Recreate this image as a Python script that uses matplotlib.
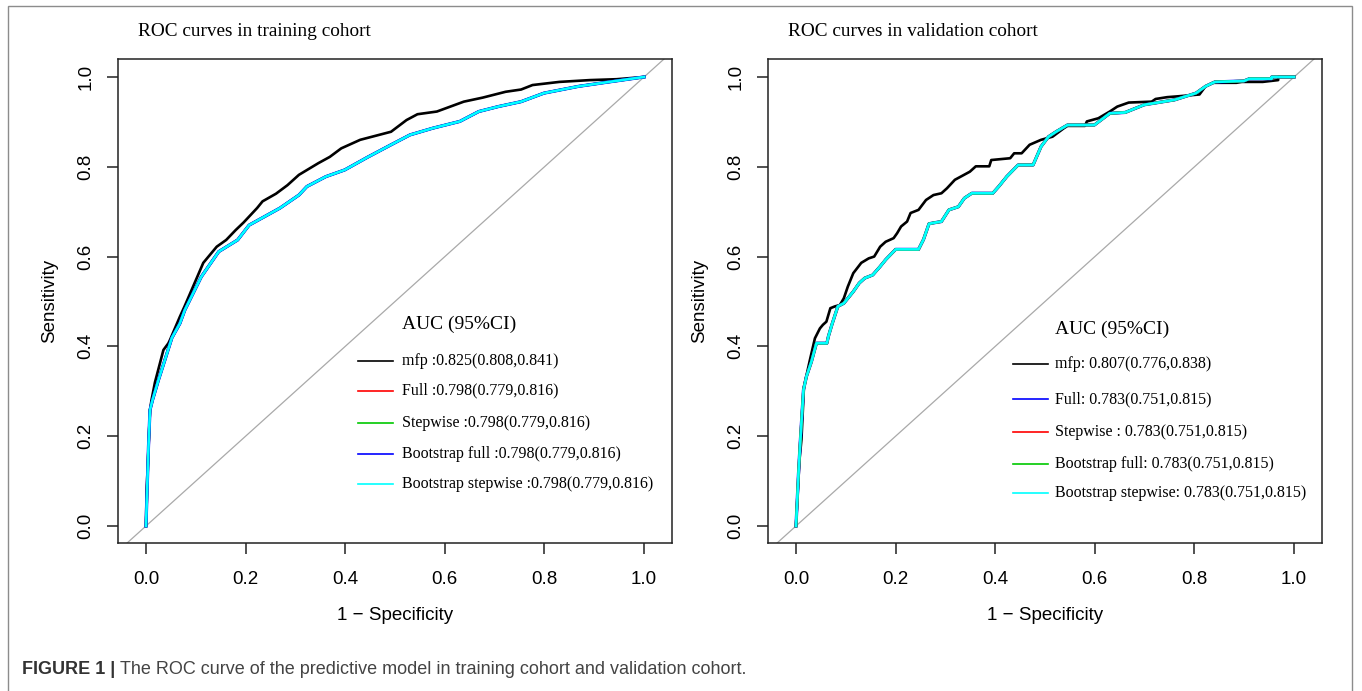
import matplotlib
matplotlib.use("Agg")
import matplotlib.pyplot as plt
from matplotlib.patches import Rectangle
from matplotlib.lines import Line2D

# ---------------- data ----------------
# Training cohort: mfp curve
train_mfp_fpr = [0, .001, .005, .008, .011, .018, .035, .045, .048, .068, .077, .096, .115, .142,
                 .161, .180, .196, .223, .234, .261, .284, .307, .346, .369, .392, .430, .492,
                 .523, .545, .584, .638, .676, .722, .753, .776, .830, .891, .945, 1.0]
train_mfp_tpr = [0, .073, .17, .258, .28, .32, .392, .407, .414, .466, .488, .537, .586, .622,
                 .637, .659, .676, .708, .723, .740, .759, .782, .808, .822, .841, .860, .878,
                 .904, .917, .923, .945, .954, .967, .972, .982, .989, .993, .995, 1.0]
# Training cohort: Full / Stepwise / Bootstrap full / Bootstrap stepwise (coinciding curves)
train_other_fpr = [0, .005, .008, .013, .025, .038, .052, .068, .078, .111, .146, .184, .207,
                   .238, .269, .307, .323, .361, .399, .446, .492, .530, .576, .630, .668, .707,
                   .753, .799, .868, .930, 1.0]
train_other_tpr = [0, .177, .258, .28, .325, .37, .419, .451, .481, .555, .611, .637, .670,
                   .689, .708, .737, .756, .778, .793, .822, .849, .871, .886, .901, .923, .934,
                   .945, .964, .979, .989, 1.0]

# Validation cohort: mfp curve
valid_mfp_fpr = [0, .007, .011, .016, .028, .038, .048, .054, .061, .069, .078, .088, .096, .104,
                 .115, .131, .146, .157, .169, .180, .196, .203, .211, .223, .230, .246, .261,
                 .276, .292, .303, .319, .334, .349, .361, .388, .392, .430, .438, .453, .469,
                 .492, .515, .538, .545, .580, .584, .607, .630, .645, .668, .714, .722, .745,
                 .768, .810, .822, .837, .884, .895, .937, .968, .968, 1.0]
valid_mfp_tpr = [0, .147, .193, .31, .37, .418, .44, .448, .455, .485, .489, .492, .507, .533,
                 .563, .586, .596, .600, .622, .633, .641, .652, .667, .678, .697, .704, .726,
                 .737, .741, .752, .771, .780, .789, .801, .801, .815, .819, .830, .830, .849,
                 .860, .867, .886, .891, .891, .901, .908, .923, .934, .943, .945, .951, .955,
                 .957, .961, .979, .987, .987, .989, .989, .993, 1.0, 1.0]
# Validation cohort: Full / Stepwise / Bootstrap full / Bootstrap stepwise (coinciding curves)
valid_other_fpr = [0, .005, .008, .015, .021, .031, .041, .062, .065, .072, .084, .096, .115,
                   .127, .138, .154, .169, .180, .200, .246, .256, .267, .276, .292, .307, .326,
                   .338, .353, .395, .407, .423, .446, .476, .492, .507, .522, .545, .599, .630,
                   .661, .699, .760, .803, .822, .841, .899, .91, .955, .955, 1.0]
valid_other_tpr = [0, .117, .177, .303, .333, .366, .407, .407, .422, .448, .489, .496, .522,
                   .541, .552, .559, .578, .593, .616, .616, .638, .673, .675, .678, .704, .711,
                   .730, .741, .741, .756, .778, .804, .804, .845, .867, .878, .893, .893, .919,
                   .921, .938, .949, .964, .979, .989, .991, .996, .996, 1.0, 1.0]

train_labels = ["mfp :0.825(0.808,0.841)", "Full :0.798(0.779,0.816)",
                "Stepwise :0.798(0.779,0.816)", "Bootstrap full :0.798(0.779,0.816)",
                "Bootstrap stepwise :0.798(0.779,0.816)"]
valid_labels = ["mfp: 0.807(0.776,0.838)", "Full: 0.783(0.751,0.815)",
                "Stepwise : 0.783(0.751,0.815)", "Bootstrap full: 0.783(0.751,0.815)",
                "Bootstrap stepwise: 0.783(0.751,0.815)"]
ticks = [0.0, 0.2, 0.4, 0.6, 0.8, 1.0]
tick_labels = ["0.0", "0.2", "0.4", "0.6", "0.8", "1.0"]

# ---------------- style ----------------
W, H = 1362, 691
SERIF = ["Liberation Serif", "DejaVu Serif"]
SANS = ["Liberation Sans", "DejaVu Sans"]
GREEN = "#00c800"

fig = plt.figure(figsize=(W / 100, H / 100), dpi=100)

# outer frame
fig.patches.append(Rectangle((8 / W, -0.05), (1352 - 8) / W, 1.05 - 6 / H,
                             transform=fig.transFigure, fill=False,
                             edgecolor="#8c8c8c", linewidth=1.0))


def px_axes(x0, x1, y0, y1):
    return fig.add_axes([x0 / W, 1 - y1 / H, (x1 - x0) / W, (y1 - y0) / H])


def panel(ax, title, title_x, mfp_f, mfp_t, oth_f, oth_t, labels, colors,
          leg_line, leg_text_x, leg_rows, leg_title_y):
    ax.set_xlim(-0.0562, 1.056)
    ax.set_ylim(-0.0379, 1.040)
    ax.plot([-0.1, 1.1], [-0.1, 1.1], color="#a9a9a9", lw=0.9, zorder=1)
    # model curves, drawn in legend order (last on top)
    ax.plot(mfp_f, mfp_t, color="black", lw=1.9, zorder=3)
    for c in colors[1:]:
        lw = 2.3 if c == "blue" else 1.9
        ax.plot(oth_f, oth_t, color=c, lw=lw, zorder=3)
    for s in ax.spines.values():
        s.set_linewidth(1.1)
        s.set_color("#222222")
    ax.set_xticks(ticks)
    ax.set_xticklabels(tick_labels, family=SANS, fontsize=13.5)
    ax.set_yticks(ticks)
    ax.set_yticklabels(tick_labels, family=SANS, fontsize=13.5, rotation=90, va="center")
    ax.tick_params(direction="out", length=8, width=1.1, color="#222222")
    ax.tick_params(axis="x", pad=12)
    ax.tick_params(axis="y", pad=9)
    ax.set_xlabel("1 \u2212 Specificity", family=SANS, fontsize=13.5, labelpad=14)
    ax.set_ylabel("Sensitivity", family=SANS, fontsize=13.5, labelpad=14)
    fig.text(title_x / W, 1 - 32 / H, title, family=SERIF, fontsize=13.9,
             ha="left", va="center")
    # legend
    ax.text(leg_text_x, leg_title_y, "AUC (95%CI)", family=SERIF, fontsize=14,
            ha="left", va="center")
    for lab, c, y in zip(labels, colors, leg_rows):
        ax.add_line(Line2D(leg_line, [y, y], color=c, lw=1.2))
        ax.text(leg_text_x, y, lab, family=SERIF, fontsize=11.5, ha="left", va="center")


ax1 = px_axes(118, 672, 59, 543)
panel(ax1, "ROC curves in training cohort", 138,
      train_mfp_fpr, train_mfp_tpr, train_other_fpr, train_other_tpr, train_labels,
      ["black", "red", GREEN, "blue", "cyan"],
      [0.426, 0.496], 0.514, [0.367, 0.301, 0.229, 0.160, 0.094], 0.448)

ax2 = px_axes(768, 1322, 59, 543)
panel(ax2, "ROC curves in validation cohort", 788,
      valid_mfp_fpr, valid_mfp_tpr, valid_other_fpr, valid_other_tpr, valid_labels,
      ["black", "blue", "red", GREEN, "cyan"],
      [0.436, 0.506], 0.520, [0.361, 0.283, 0.209, 0.138, 0.073], 0.437)

# caption
cap = ["Liberation Sans Narrow", "Liberation Sans", "DejaVu Sans"]
t1 = fig.text(22 / W, 1 - 669 / H, "FIGURE 1 | ", family=cap, fontsize=13.0,
              fontweight="bold", color="#333333", ha="left", va="center")
fig.canvas.draw()
bb = t1.get_window_extent()
fig.text(bb.x1 / W, 1 - 669 / H, "The ROC curve of the predictive model in training cohort and validation cohort.",
         family=cap, fontsize=13.0, color="#444444", ha="left", va="center")

fig.savefig("out.png", dpi=100)
